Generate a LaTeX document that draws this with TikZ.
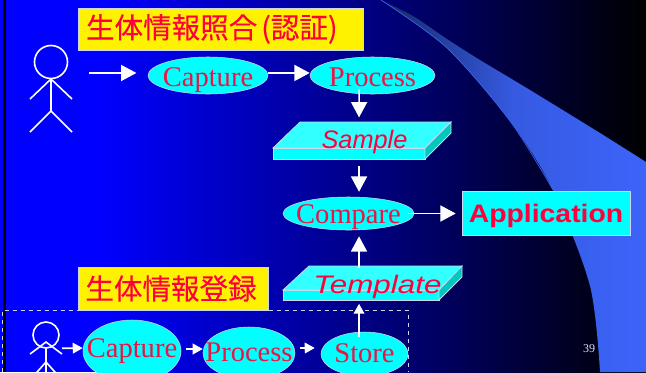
\documentclass[tikz,border=0pt]{standalone}
\usepackage{fontspec}
\usepackage{tikz}
\usetikzlibrary{positioning}
\usetikzlibrary{shapes.geometric}
\usetikzlibrary{arrows.meta}
\setmainfont{Liberation Serif}
\newfontfamily\jpfont[FakeBold=0.2]{Noto Sans CJK JP}
\newfontfamily\widefont[FakeStretch=1.24]{Liberation Sans}
\newfontfamily\appfont[FakeStretch=1.12]{Liberation Sans}
\newfontfamily\plainsans{Liberation Sans}
\definecolor{txtred}{RGB}{235, 20, 70}
\definecolor{boldred}{RGB}{255, 0, 60}
\definecolor{aqua}{RGB}{0, 255, 255}
\definecolor{aquatop}{RGB}{50, 255, 255}
\definecolor{swoosh}{RGB}{60, 100, 250}
\definecolor{swooshdark}{RGB}{20, 40, 100}
\definecolor{lineblue}{RGB}{205, 215, 240}
\definecolor{sidecyan}{RGB}{0, 200, 190}
\newcommand{\ovlabel}[2][6.2pt]{\makebox[0pt]{\raisebox{-#1}[0pt][0pt]{#2}}}
\tikzset{
  oval/.style={ellipse,draw=lineblue,fill=aqua,text=txtred,inner sep=0pt,font=\fontsize{21.4pt}{24pt}\selectfont},
  title/.style={draw=lineblue,fill=yellow,text=boldred,inner sep=0pt,font=\jpfont\fontsize{21.4pt}{24pt}\selectfont},
  link/.style={draw=white,line width=1.25pt,-{Triangle[length=11.5pt,width=12pt]}},
  smalllink/.style={draw=white,line width=1.25pt,-{Triangle[length=7.5pt,width=8pt]}},
  limb/.style={draw=white,line width=1.2pt},
  slabtop/.style={draw=lineblue,fill=aquatop,line width=0.6pt},
  slab/.style={draw=lineblue,fill=aqua,line width=0.6pt},
  slabside/.style={draw=lineblue,fill=sidecyan,line width=0.6pt},
  slabtext/.style={text=boldred,inner sep=0pt}
}
\begin{document}
\begin{tikzpicture}[x=0.75pt,y=-0.75pt]
  \useasboundingbox (0,0) rectangle (646,372);
  \clip (0,0) rectangle (646,372);
  % background
  \fill[blue] (0,0) rectangle (100,372);
  \fill[left color=blue,right color=black] (100,0) rectangle (646,372);
  \fill[left color=swooshdark,right color=swoosh,middle color=swoosh!90!black]
    plot[smooth] coordinates {(381,0) (447,48) (510,121) (553,190) (590,286) (600,372)}
    -- (646,372) -- (646,162)
    plot[smooth] coordinates {(646,162) (600,133) (530,90) (480,60) (447,39) (413,16) (381,0)};
  \draw[swoosh,line width=0.5pt] plot[smooth] coordinates {(381,0) (447,48) (510,121) (553,190)};
  \fill[black] (3,0) rectangle (5.5,372);
  % top row
  \node[title,minimum width=285*0.75pt,minimum height=42*0.75pt] (verify) at (220.5,29)
    {\raisebox{-3pt}{生体情報照合\kern3pt(認証)\kern13pt}};
  \draw[limb] (51,62) circle (16.5);
  \draw[limb] (51,78.5) -- (51,111) (30,99) -- (51,79) -- (72,99) (30,132) -- (51,111) -- (72,132);
  \coordinate (user) at (89,73);
  \node[oval,minimum width=120*0.75pt,minimum height=37*0.75pt] (capture) at (208,75.5) {\ovlabel[8.6pt]{Capture}};
  \node[oval,minimum width=125*0.75pt,minimum height=37*0.75pt] (process) at (372.5,75.5) {\ovlabel[8.2pt]{Process}};
  \draw[link] (user) -- ([xshift=-8.5pt,yshift=1.9pt]capture.west);
  \draw[link] ([yshift=1.9pt]capture.east) -- ([yshift=1.9pt]process.west);
  % sample slab
  \draw[slabtop] (273,148) -- (300,122) -- (451,122) -- (425,148) -- cycle;
  \draw[slab] (273,148) rectangle (425,159);
  \draw[slabside] (425,148) -- (451,122) -- (451,133) -- (425,159) -- cycle;
  \node[slabtext,minimum width=178*0.75pt,minimum height=37*0.75pt,font=\plainsans\itshape\fontsize{19pt}{22pt}\selectfont] (sample) at (364.5,141.5) {Sample};
  % compare
  \node[oval,minimum width=131*0.75pt,minimum height=33*0.75pt] (compare) at (348.5,213.5) {\ovlabel[7.6pt]{Compare}};
  \node[draw=lineblue,fill=aqua,text=boldred,minimum width=168*0.75pt,minimum height=44*0.75pt,inner sep=0pt,font=\appfont\bfseries\fontsize{19pt}{22pt}\selectfont] (app) at (546,213.5) {\raisebox{-6.5pt}[0pt][0pt]{Application}};
  \draw[link] ([xshift=-4.5pt]compare.east) -- ([xshift=-4.5pt]app.west);
  \draw[link,shorten >=4pt] ([xshift=-10pt,yshift=3.7pt]process.south) -- ([xshift=-4.1pt]sample.north);
  \draw[link,shorten <=4.5pt] ([xshift=-4.1pt]sample.south) -- ([xshift=7.9pt,yshift=3.7pt]compare.north);
  % template slab
  \draw[slabtop] (283,290) -- (309,266) -- (462,266) -- (439,290) -- cycle;
  \draw[slab] (283,290) rectangle (439,300);
  \draw[slabside] (439,290) -- (462,266) -- (462,277) -- (439,300) -- cycle;
  \node[slabtext,minimum width=179*0.75pt,minimum height=34*0.75pt,font=\widefont\itshape\fontsize{19pt}{22pt}\selectfont] (template) at (377.5,286.5) {Template};
  \draw[link,shorten <=1pt] ([xshift=-13.9pt]template.north) -- ([xshift=7.9pt,yshift=-4.5pt]compare.south);
  % enrol row
  \node[title,minimum width=190*0.75pt,minimum height=43*0.75pt] (enrol) at (173,288.5) {\raisebox{-3pt}{生体情報登録\kern3pt}};
  \draw[lineblue,dashed,line width=0.7pt] (2.5,372) -- (2.5,310) -- (408,310) -- (408,372);
  \draw[limb] (46,335) circle (13);
  \draw[limb] (46,348) -- (46,376) (30,354) -- (46,342) -- (62,354) (30,380) -- (46,362) -- (62,380);
  \node[oval,minimum width=98*0.75pt,minimum height=62*0.75pt] (capture2) at (132,351) {\ovlabel[5.2pt]{Capture}};
  \node[oval,minimum width=92*0.75pt,minimum height=52*0.75pt] (process2) at (249,353) {\ovlabel[6pt]{Process}};
  \node[oval,minimum width=87*0.75pt,minimum height=44*0.75pt] (store) at (364.5,354) {\ovlabel[6.5pt]{Store}};
  \coordinate (user2) at (62,348.3);
  \draw[smalllink] (user2) -- ([yshift=2.2pt]capture2.west);
  \draw[smalllink] ([xshift=3.5pt,yshift=1.5pt]capture2.east) -- ([yshift=3pt]process2.west);
  \draw[smalllink] ([xshift=3.7pt,yshift=3.7pt]process2.east) -- ([xshift=-4.5pt,yshift=4.5pt]store.west);
  \draw[smalllink] ([xshift=-4.1pt,yshift=-3.7pt]store.north) -- ([xshift=-4.1pt,yshift=21pt]store.north);
  \node[text=white!85!blue,font=\fontsize{9pt}{11pt}\selectfont] (pageno) at (589,349) {39};
\end{tikzpicture}
\end{document}
